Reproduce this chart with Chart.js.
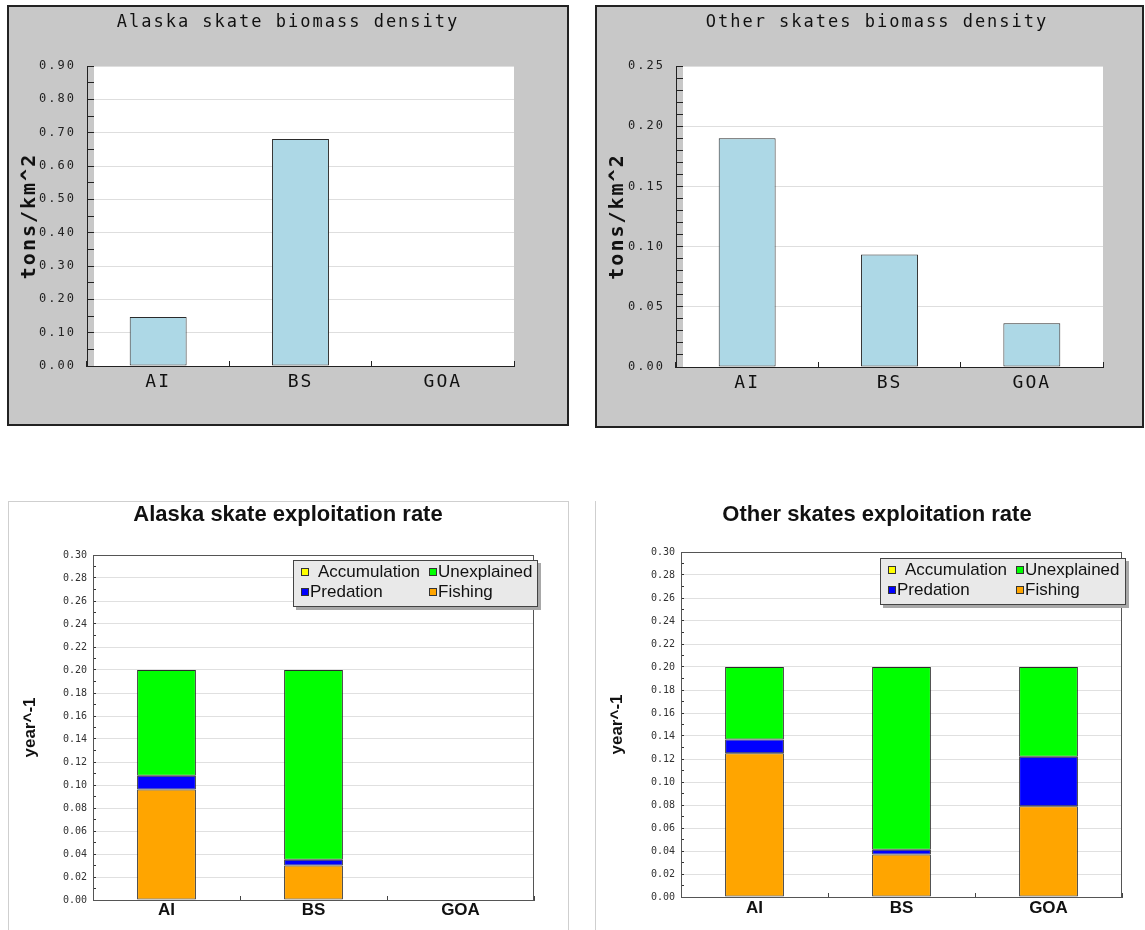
<!DOCTYPE html>
<html>
<head>
<meta charset="utf-8">
<script src="https://cdn.jsdelivr.net/npm/chart.js@4.4.0/dist/chart.umd.min.js"></script>
<style>
html,body{margin:0;padding:0;background:#fff;width:1145px;height:930px;overflow:hidden;position:relative;font-family:"Liberation Sans",Arial,sans-serif}
.panel{position:absolute;box-sizing:border-box}
#p1{left:7px;top:5px;width:562px;height:421px;background:#c8c8c8;border:2px solid #222}
#p2{left:595px;top:5px;width:549px;height:423px;background:#c8c8c8;border:2px solid #222}
#p3{left:8px;top:501px;width:561px;height:440px;border:1px solid #cfcfcf}
#p4{left:595px;top:501px;width:560px;height:440px;border-left:1px solid #cfcfcf}
canvas{position:absolute}
#c1{left:9px;top:7px}
#c2{left:597px;top:7px}
#c3{left:9px;top:502px}
#c4{left:597px;top:502px}
.legend{position:absolute;box-sizing:border-box;background:#e9e9e9;border:1px solid #444;box-shadow:3px 3px 0 #a8a8a8;font-size:17px;color:#111}
.legend .it{position:absolute;height:20px;line-height:20px;white-space:nowrap}
.legend .mk{display:inline-block;width:6px;height:6px;border:1px solid #333;vertical-align:middle;margin-right:1px;position:relative;top:-1px}
#lg1{left:293px;top:560px;width:245px;height:47px}
#lg2{left:880px;top:558px;width:246px;height:47px}
</style>
</head>
<body>
<div class="panel" id="p1"></div>
<div class="panel" id="p2"></div>
<div class="panel" id="p3"></div>
<div class="panel" id="p4"></div>
<canvas id="c1"></canvas>
<canvas id="c2"></canvas>
<canvas id="c3"></canvas>
<canvas id="c4"></canvas>
<div class="legend" id="lg1"></div>
<div class="legend" id="lg2"></div>
<script>
// ---------- data ----------
const regions = ['AI', 'BS', 'GOA'];

const alaskaDensity = [0.147, 0.681, 0];
const otherDensity  = [0.190, 0.0935, 0.0364];

const alaskaDensityAxis = {max: 0.90, labelStep: 0.10, tickStep: 0.05};
const otherDensityAxis  = {max: 0.25, labelStep: 0.05, tickStep: 0.01};
const rateAxis          = {max: 0.30, labelStep: 0.02, tickStep: 0.01};

const seriesNames  = ['Fishing', 'Predation', 'Unexplained', 'Accumulation'];
const seriesColors = ['#ffa500', '#0000ff', '#00ff00', '#ffff00'];

const alaskaFishing      = [0.096, 0.030, 0];
const alaskaPredation    = [0.012, 0.005, 0];
const alaskaUnexplained  = [0.092, 0.165, 0];
const alaskaAccumulation = [0, 0, 0];

const otherFishing      = [0.125, 0.037, 0.079];
const otherPredation    = [0.012, 0.004, 0.043];
const otherUnexplained  = [0.063, 0.159, 0.078];
const otherAccumulation = [0, 0, 0];

// ---------- helpers ----------
const MONO = "'DejaVu Sans Mono', 'Liberation Mono', monospace";
const SANS = "'Liberation Sans', Arial, sans-serif";
const isMult = (v, s) => Math.abs(v / s - Math.round(v / s)) < 1e-6;

const spacingPlugin = {
  id: 'spacing',
  beforeDraw(chart) { try { chart.ctx.letterSpacing = '2px'; } catch (e) {} }
};
function plotBg(inset) {
  return {
    id: 'plotBg',
    beforeDraw(chart) {
      const a = chart.chartArea, ctx = chart.ctx;
      ctx.save();
      ctx.fillStyle = '#ffffff';
      ctx.fillRect(a.left + inset, a.top, a.right - a.left - inset, a.bottom - a.top);
      ctx.restore();
    }
  };
}
const framePlugin = {
  id: 'frame',
  beforeDatasetsDraw(chart) {
    const a = chart.chartArea, ctx = chart.ctx;
    ctx.save();
    ctx.strokeStyle = '#555';
    ctx.lineWidth = 1;
    ctx.strokeRect(Math.round(a.left) + 0.5, Math.round(a.top) + 0.5, Math.round(a.right - a.left) - 1, Math.round(a.bottom - a.top));
    ctx.restore();
  }
};
// invisible right-hand axis that only reserves room, so full-width titles stay centred on the canvas
function spacerAxis(width) {
  return {
    type: 'linear', position: 'right', display: true,
    grid: {display: false, drawTicks: false}, border: {display: false},
    ticks: {display: false},
    afterFit: s => { s.width = width; }
  };
}

function densityChart(id, title, values, ax, g) {
  const cv = document.getElementById(id);
  cv.width = g.w; cv.height = g.h;
  return new Chart(cv, {
    type: 'bar',
    data: {
      labels: regions,
      datasets: [{
        data: values,
        backgroundColor: '#add8e6',
        borderColor: '#2b2b2b',
        borderWidth: c => (c.raw ? 1 : 0),
        borderSkipped: false,
        barPercentage: 0.4,
        categoryPercentage: 1
      }]
    },
    options: {
      responsive: false, animation: false, devicePixelRatio: 1, events: [],
      layout: {padding: 0},
      plugins: {
        legend: {display: false}, tooltip: {enabled: false},
        title: {display: true, text: title, color: '#111',
          font: {family: MONO, size: 17, weight: 'normal', lineHeight: 1.2},
          padding: {top: 5, bottom: g.top - 5 - 20.4}}
      },
      scales: {
        x: {
          offset: true,
          grid: {display: true, offset: true, drawOnChartArea: false, drawTicks: true, tickLength: -5, color: '#222'},
          border: {display: true, color: '#222', width: 1},
          ticks: {color: '#111', font: {family: MONO, size: 18}, padding: 10.2, autoSkip: false, maxRotation: 0},
          afterFit: s => { s.height = g.h - g.bottom; }
        },
        y: {
          min: 0, max: ax.max,
          grid: {
            color: c => (c.tick && c.tick.value > 0 && isMult(c.tick.value, ax.labelStep)) ? '#dedede' : 'rgba(0,0,0,0)',
            tickColor: '#222', tickLength: -7, drawTicks: true, lineWidth: 1
          },
          border: {display: true, color: '#222', width: 1},
          ticks: {
            stepSize: ax.tickStep, autoSkip: false,
            callback: v => isMult(v, ax.labelStep) ? Number(v).toFixed(2) : '',
            font: {family: MONO, size: 12}, color: '#222', padding: 18
          },
          title: {display: true, text: 'tons/km^2', color: '#111',
            font: {family: MONO, size: 20, weight: 'bold', lineHeight: 1.2}, padding: {top: 9, bottom: 0}},
          afterFit: s => { s.width = g.left; }
        },
        pad: spacerAxis(g.w - g.right)
      }
    },
    plugins: [plotBg(7), spacingPlugin]
  });
}

function rateChart(id, title, series, g) {
  const cv = document.getElementById(id);
  cv.width = g.w; cv.height = g.h;
  const datasets = series.map((vals, i) => ({
    label: seriesNames[i],
    data: vals,
    backgroundColor: seriesColors[i],
    borderColor: '#2b2b2b',
    borderWidth: c => (c.raw ? 1 : 0),
    borderSkipped: false,
    barPercentage: 0.4,
    categoryPercentage: 1
  }));
  return new Chart(cv, {
    type: 'bar',
    data: {labels: regions, datasets},
    options: {
      responsive: false, animation: false, devicePixelRatio: 1, events: [],
      layout: {padding: 0},
      plugins: {
        legend: {display: false}, tooltip: {enabled: false},
        title: {display: true, text: title, color: '#111',
          font: {family: SANS, size: 22, weight: 'bold', lineHeight: 1.2},
          padding: {top: g.titleTop, bottom: g.top - g.titleTop - 26.4}}
      },
      scales: {
        x: {
          stacked: true, offset: true,
          grid: {display: true, offset: true, drawOnChartArea: false, drawTicks: true, tickLength: -4, color: '#444'},
          border: {display: true, color: '#555', width: 1},
          ticks: {color: '#111', font: {family: SANS, size: 17, weight: 'bold'}, padding: g.xPad, autoSkip: false, maxRotation: 0},
          afterFit: s => { s.height = g.h - g.bottom; }
        },
        y: {
          stacked: true, min: 0, max: rateAxis.max,
          grid: {
            color: c => (c.tick && c.tick.value > 0 && isMult(c.tick.value, rateAxis.labelStep)) ? '#e0e0e0' : 'rgba(0,0,0,0)',
            tickColor: '#333', tickLength: -3, drawTicks: true, lineWidth: 1
          },
          border: {display: true, color: '#555', width: 1},
          ticks: {
            stepSize: rateAxis.tickStep, autoSkip: false,
            callback: v => isMult(v, rateAxis.labelStep) ? Number(v).toFixed(2) : '',
            font: {family: MONO, size: 10}, color: '#333', padding: 9
          },
          title: {display: true, text: 'year^-1', color: '#111',
            font: {family: SANS, size: 17, weight: 'bold', lineHeight: 1.2}, padding: {top: g.yTitle, bottom: 0}},
          afterFit: s => { s.width = g.left; }
        },
        pad: spacerAxis(g.w - g.right)
      }
    },
    plugins: [framePlugin]
  });
}

function buildLegend(elId) {
  const el = document.getElementById(elId);
  const order = [3, 2, 1, 0]; // Accumulation, Unexplained, Predation, Fishing
  const pos = [[7, 1], [135, 1], [7, 21], [135, 21]];
  order.forEach((si, k) => {
    const it = document.createElement('div');
    it.className = 'it';
    it.style.left = pos[k][0] + 'px';
    it.style.top = pos[k][1] + 'px';
    const mk = document.createElement('span');
    mk.className = 'mk';
    mk.style.background = seriesColors[si];
    if (si === 3) mk.style.marginRight = '9px';
    it.appendChild(mk);
    it.appendChild(document.createTextNode(seriesNames[si]));
    el.appendChild(it);
  });
}

// ---------- charts ----------
densityChart('c1', 'Alaska skate biomass density', alaskaDensity, alaskaDensityAxis,
  {w: 558, h: 417, left: 78, right: 505, top: 59, bottom: 359});
densityChart('c2', 'Other skates biomass density', otherDensity, otherDensityAxis,
  {w: 560, h: 419, left: 79, right: 506, top: 59, bottom: 360});

rateChart('c3', 'Alaska skate exploitation rate',
  [alaskaFishing, alaskaPredation, alaskaUnexplained, alaskaAccumulation],
  {w: 558, h: 428, left: 84, right: 525, top: 53, bottom: 398, titleTop: 0, xPad: 3.8, yTitle: 10.8});
rateChart('c4', 'Other skates exploitation rate',
  [otherFishing, otherPredation, otherUnexplained, otherAccumulation],
  {w: 560, h: 428, left: 84, right: 525, top: 50, bottom: 395, titleTop: 0, xPad: 5, yTitle: 10});

buildLegend('lg1');
buildLegend('lg2');
</script>
</body>
</html>
